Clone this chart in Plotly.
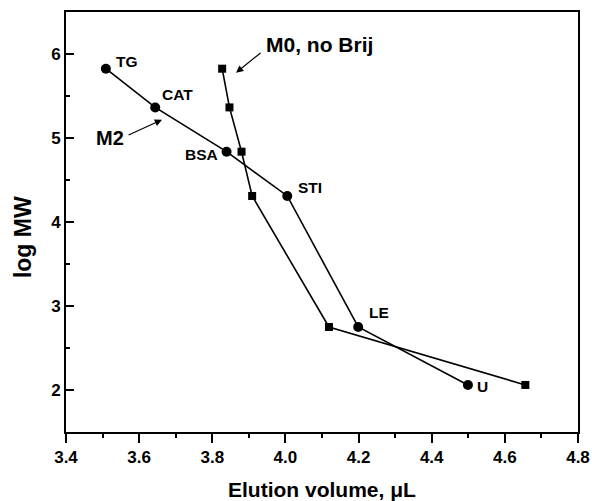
import plotly.graph_objects as go

# M2 series (circles)
m2_x = [3.509, 3.644, 3.839, 4.005, 4.199, 4.499]
m2_y = [5.825, 5.364, 4.837, 4.310, 2.750, 2.060]
m2_labels = ["TG", "CAT", "BSA", "STI", "LE", "U"]
m2_label_x = [3.567, 3.706, 3.770, 4.066, 4.256, 4.539]
m2_label_y = [5.905, 5.515, 4.800, 4.412, 2.920, 2.040]

# M0, no Brij series (squares)
m0_x = [3.827, 3.847, 3.880, 3.909, 4.119, 4.656]
m0_y = [5.825, 5.364, 4.837, 4.310, 2.750, 2.060]

x_ticks = [3.4, 3.6, 3.8, 4.0, 4.2, 4.4, 4.6, 4.8]
x_ticktext = ["3.4", "3.6", "3.8", "4.0", "4.2", "4.4", "4.6", "4.8"]
y_ticks = [2, 3, 4, 5, 6]
y_ticktext = ["2", "3", "4", "5", "6"]

FONT = "Liberation Sans, Arial, sans-serif"

def b(s):
    return "<b>" + s + "</b>"

fig = go.Figure()
fig.add_trace(go.Scatter(x=m2_x, y=m2_y, mode="lines+markers",
                         line=dict(color="black", width=1.6),
                         marker=dict(symbol="circle", size=10, color="black"),
                         showlegend=False))
fig.add_trace(go.Scatter(x=m0_x, y=m0_y, mode="lines+markers",
                         line=dict(color="black", width=1.6),
                         marker=dict(symbol="square", size=8, color="black"),
                         showlegend=False))

anns = []
for t, lx, ly in zip(m2_labels, m2_label_x, m2_label_y):
    anns.append(dict(x=lx, y=ly, text=b(t), showarrow=False,
                     font=dict(family=FONT, size=15.5, color="black")))
anns.append(dict(x=3.520, y=5.004, text=b("M2"), showarrow=False,
                 font=dict(family=FONT, size=20, color="black")))
anns.append(dict(x=4.092, y=6.11, text=b("M0, no Brij"), showarrow=False,
                 font=dict(family=FONT, size=21, color="black")))
# arrows
anns.append(dict(x=3.6625, y=5.218, ax=3.567, ay=5.027, axref="x", ayref="y",
                 text="", showarrow=True, arrowhead=2, arrowsize=1.2,
                 arrowwidth=1.2, arrowcolor="black"))
anns.append(dict(x=3.865, y=5.777, ax=3.936, ay=6.027, axref="x", ayref="y",
                 text="", showarrow=True, arrowhead=2, arrowsize=1.2,
                 arrowwidth=1.2, arrowcolor="black"))
# axis titles
anns.append(dict(xref="paper", yref="paper", x=0.5, y=-0.136, xanchor="center", yanchor="middle",
                 text=b("Elution volume, μL"),
                 showarrow=False, font=dict(family=FONT, size=21, color="black")))
anns.append(dict(xref="paper", yref="paper", x=-0.084, y=0.464, xanchor="center", yanchor="middle",
                 text=b("log MW"), textangle=-90, showarrow=False,
                 font=dict(family=FONT, size=23, color="black")))

fig.update_layout(
    width=592, height=501,
    margin=dict(l=66, r=14, t=12, b=69),
    plot_bgcolor="white", paper_bgcolor="white",
    annotations=anns,
    xaxis=dict(range=[3.4, 4.8], tickvals=x_ticks, ticktext=[b(t) for t in x_ticktext],
               automargin=False, ticklabeloverflow="allow",
               showgrid=False, zeroline=False, showline=True, linecolor="black",
               linewidth=2, mirror=True, ticks="outside", ticklen=9, tickwidth=1.5,
               tickcolor="black",
               minor=dict(dtick=0.1, ticks="outside", ticklen=4, tickwidth=1.5, tickcolor="black"),
               tickfont=dict(family=FONT, size=17, color="black")),
    yaxis=dict(range=[1.5, 6.5], tickvals=y_ticks, ticktext=[b(t) for t in y_ticktext],
               automargin=False,
               showgrid=False, zeroline=False, showline=True, linecolor="black",
               linewidth=2, mirror=True, ticks="inside", ticklen=8, tickwidth=1.5,
               tickcolor="black",
               minor=dict(dtick=0.5, ticks="inside", ticklen=4, tickwidth=1.5, tickcolor="black"),
               tickfont=dict(family=FONT, size=17, color="black")),
)
fig.write_html("out.html")
